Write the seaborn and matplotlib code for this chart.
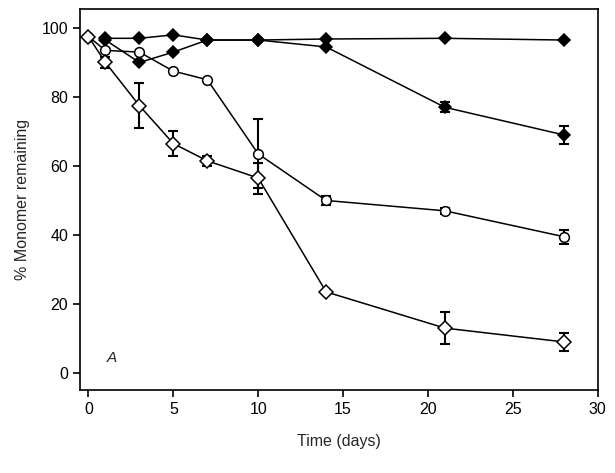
import numpy as np
import matplotlib
matplotlib.use("Agg")
import matplotlib.pyplot as plt
import seaborn as sns

# ---------------- data ----------------
t_filled = [1, 3, 5, 7, 10, 14, 21, 28]
t_open = [0, 1, 3, 5, 7, 10, 14, 21, 28]

stable = [97, 97, 98, 96.5, 96.5, 96.8, 97, 96.5]
stable_err = [0, 0, 0, 0, 0, 0, 0, 0]

slow = [96.5, 90, 93, 96.5, 96.5, 94.5, 77, 69]
slow_err = [0, 0, 0, 0, 0, 0, 1.5, 2.5]

circle = [97.5, 93.5, 93, 87.5, 85, 63.5, 50, 47, 39.5]
circle_err = [0, 0, 0, 0, 0, 10, 1.2, 0.8, 2]

diamond = [97.5, 90, 77.5, 66.5, 61.5, 56.5, 23.5, 13, 9]
diamond_err = [0, 1.5, 6.5, 3.5, 1.5, 4.5, 0, 4.7, 2.6]

xticks = [0, 5, 10, 15, 20, 25, 30]
yticks = [0, 20, 40, 60, 80, 100]

# ---------------- plot ----------------
sns.set_style("ticks")
plt.rcParams['font.family'] = ['Liberation Sans', 'DejaVu Sans']

fig = plt.figure(figsize=(6.15, 4.73), dpi=100)
ax = fig.add_axes([0.130, 0.175, 0.842, 0.806])

series = [
    (t_filled, stable, stable_err, 'D', 'black', 6.5),
    (t_filled, slow, slow_err, 'D', 'black', 6.5),
    (t_open, circle, circle_err, 'o', 'white', 7),
    (t_open, diamond, diamond_err, 'D', 'white', 7),
]

for x, y, err, mk, face, ms in series:
    x = np.array(x); y = np.array(y); err = np.array(err)
    sel = err > 0
    if sel.any():
        ax.errorbar(x[sel], y[sel], yerr=err[sel], fmt='none', ecolor='black',
                    elinewidth=1.5, capsize=3.5, capthick=1.5, zorder=2)
    sns.lineplot(x=x, y=y, ax=ax, color='black', linewidth=1.1,
                 marker=mk, markersize=ms, markerfacecolor=face,
                 markeredgecolor='black', markeredgewidth=1.1, zorder=3)

ax.text(1.4, 4.3, 'A', fontsize=11, style='italic', ha='center', va='center')

ax.set_xlim(-0.5, 30)
ax.set_ylim(-5, 105.5)
ax.set_xticks(xticks)
ax.set_yticks(yticks)
ax.tick_params(direction='out', length=5, width=1.2, labelsize=11.5, colors='black')
for sp in ax.spines.values():
    sp.set_linewidth(1.2)
    sp.set_color('black')
ax.set_xlabel('Time (days)', fontsize=11.5, labelpad=12)
ax.set_ylabel('% Monomer remaining', fontsize=11.5, labelpad=8)

fig.savefig('out.png', dpi=100)
